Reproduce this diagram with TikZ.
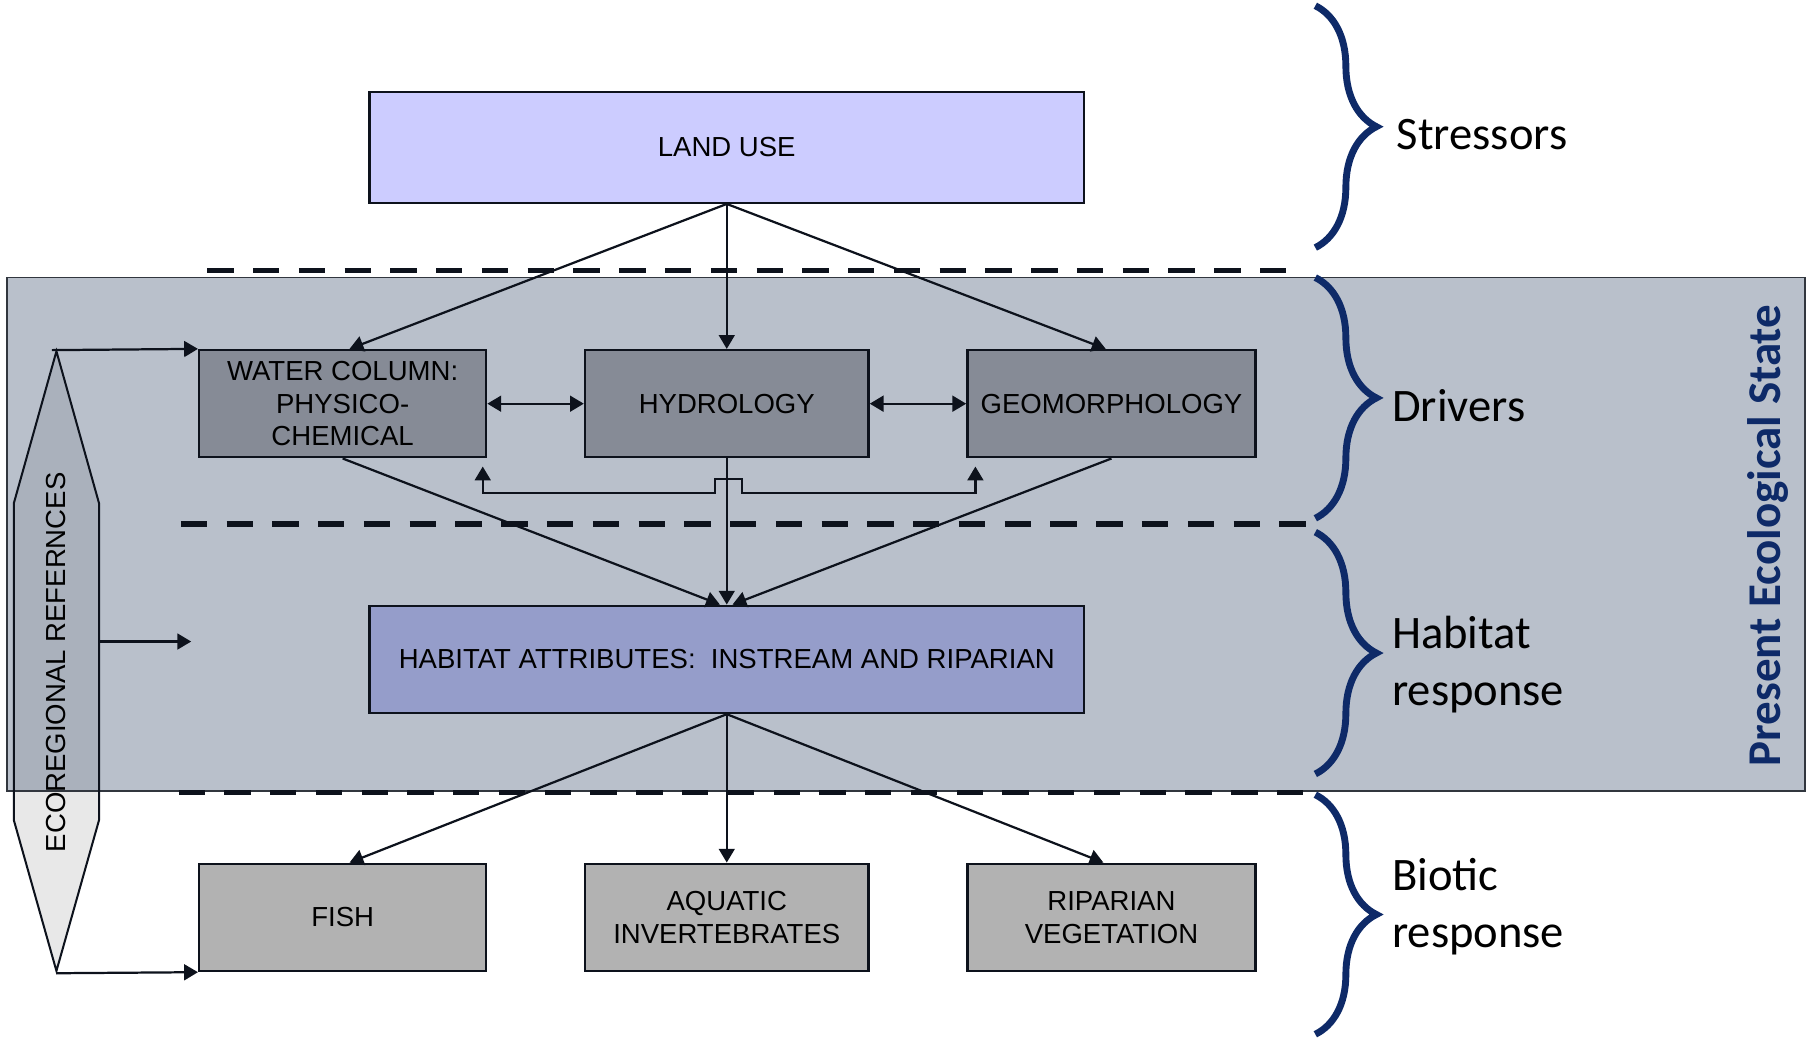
\documentclass[tikz,border=0pt]{standalone}
\usepackage{fontspec}
\setmainfont{Carlito}
\newfontfamily\boxfont{Liberation Sans}
\usepackage{tikz}
\usetikzlibrary{calc,arrows.meta,decorations.pathreplacing}
\definecolor{landblue}{HTML}{CCCCFF}
\definecolor{drivergray}{HTML}{868B96}
\definecolor{habitatblue}{HTML}{959DCA}
\definecolor{bioticgray}{HTML}{B2B2B2}
\definecolor{panelblue}{RGB}{55,75,106}
\definecolor{ecogray}{HTML}{E8E8E8}
\definecolor{bracenavy}{HTML}{0E2A68}
\definecolor{linedark}{HTML}{0D121C}

\begin{document}
\begin{tikzpicture}[x=0.01cm,y=-0.01cm,>={Triangle[length=3.4pt,width=3.9pt]},
	box/.style={draw=linedark,line width=0.6pt,inner sep=0pt,minimum height=0.93cm,
		font=\boxfont\fontsize{6.8}{8.1}\selectfont,align=center,text=black},
	link/.style={draw=linedark,line width=0.55pt,->},
	layerdash/.style={draw=linedark,line width=1.4pt,dash pattern=on 6.5pt off 4.8pt},
	layerbrace/.style={decorate,decoration={brace,amplitude=0.53cm},draw=bracenavy,line width=1.7pt},
	layerlabel/.style={anchor=west,inner sep=0pt,align=left,font=\fontsize{11.5}{14.2}\selectfont,text=black}]
	
	\useasboundingbox (0,0) rectangle (1568,904);
	
	% % ecoregional references, shaded panel laid over it
	\fill[ecogray] (49,305) -- (86,437) -- (86,712) -- (49,843) -- (12,712) -- (12,437) -- cycle;
	\fill[panelblue,fill opacity=0.35] (6,241) rectangle (1567,687);
	\draw[linedark!85,line width=0.4pt] (6,241) rectangle (1567,687);
	\draw[linedark,line width=0.5pt] (49,305) -- (86,437) -- (86,712) -- (49,843) -- (12,712) -- (12,437) -- cycle;
	\node[rotate=90,font=\boxfont\fontsize{6.8}{8}\selectfont] (eco) at (49,575) {ECOREGIONAL REFERNCES};
	\coordinate (ecotop) at (45,304);
	\coordinate (ecobot) at (49,845);
	\coordinate (ecoside) at (86,557);
	\coordinate (ecoend) at (166,557);
	
	% % layer borders
	\draw[layerdash] (180,235) -- (1125,235);
	\draw[layerdash] (157,455) -- (1135,455);
	\draw[layerdash] (155,688) -- (1135,688);
	
	% % boxes
	\node[box,fill=landblue,minimum width=6.2cm,minimum height=0.96cm] (landuse) at (631,128) {LAND USE};
	\node[box,fill=drivergray,minimum width=2.49cm] (wc) at (297.5,350.5) {WATER COLUMN:\\PHYSICO-\\CHEMICAL};
	\node[box,fill=drivergray,minimum width=2.46cm] (hyd) at (631,350.5) {HYDROLOGY};
	\node[box,fill=drivergray,minimum width=2.5cm] (geo) at (965,350.5) {GEOMORPHOLOGY};
	\node[box,fill=habitatblue,minimum width=6.2cm] (hab) at (631,572.5) {HABITAT ATTRIBUTES:\ \ INSTREAM AND RIPARIAN};
	\node[box,fill=bioticgray,minimum width=2.49cm] (fish) at (297.5,796.5) {FISH};
	\node[box,fill=bioticgray,minimum width=2.46cm] (aqua) at (631,796.5) {AQUATIC\\INVERTEBRATES};
	\node[box,fill=bioticgray,minimum width=2.5cm] (ripveg) at (965,796.5) {RIPARIAN\\VEGETATION};
	
	% % arrows
	\draw[link] (landuse.south) -- ($(wc.north)+(6,0)$);
	\draw[link] (landuse.south) -- (hyd.north);
	\draw[link] (landuse.south) -- ($(geo.north)+(-5,0)$);
	\draw[link,<->] (wc.east) -- (hyd.west);
	\draw[link,<->] (hyd.east) -- (geo.west);
	\draw[link] (wc.south) -- ($(hab.north)+(-6,0)$);
	\draw[link] (hyd.south) -- (hab.north);
	\draw[link] (geo.south) -- ($(hab.north)+(5,0)$);
	\draw[link,<->] ($(wc.south east)+(-4,7)$) |- ($(hyd.south)+(-10,30)$) |- ($(hyd.south)+(13,18)$)
		|- ($(hyd.south)+(13,30)$) -| ($(geo.south west)+(8,7)$);
	\draw[link] (hab.south) -- ($(fish.north)+(6,0)$);
	\draw[link] (hab.south) -- (aqua.north);
	\draw[link] (hab.south) -- ($(ripveg.north)+(-7,0)$);
	\draw[link] (ecotop) -- (wc.north west);
	\draw[link] (ecoside) -- (ecoend);
	\draw[link] (ecobot) -- (fish.south west);
	
	% % layer braces
	\draw[layerbrace] (1142,5) -- (1142,215);
	\draw[layerbrace] (1142,241) -- (1142,450);
	\draw[layerbrace] (1142,462) -- (1142,672);
	\draw[layerbrace] (1142,690) -- (1142,898);
	\node[layerlabel] (stress) at (1212,117) {Stressors};
	\node[layerlabel] (drivers) at (1208,352) {Drivers};
	\node[layerlabel] (habresp) at (1208,577) {Habitat\\response};
	\node[layerlabel] (biotresp) at (1208,787) {Biotic\\response};
	\node[rotate=90,font=\bfseries\fontsize{11.6}{14}\selectfont,text=bracenavy] (pes) at (1535,465) {Present Ecological State};
\end{tikzpicture}
\end{document}
